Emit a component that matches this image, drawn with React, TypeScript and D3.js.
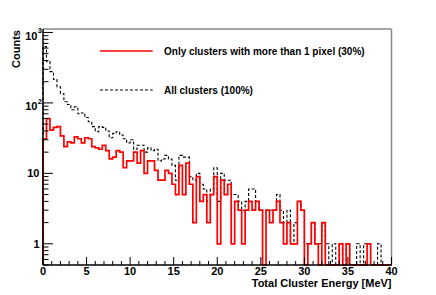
import * as d3 from "d3";

// histogram: 100 bins of 0.4 MeV from 0 to 40 MeV
const binStart = 0;
const binWidth = 0.4;

const allClusters = [
  630, 385, 278, 215, 170, 135, 104, 95, 80, 88,
  70, 72, 62, 54, 46, 39, 46, 45, 40, 32,
  37, 39, 35, 31, 27, 30, 22, 25, 25, 20,
  23, 21, 22, 15, 16, 18, 16, 13, 8, 18,
  17, 17, 9, 8, 10, 7, 6, 4, 6, 12,
  4, 10, 8, 8, 5, 5, 4, 3, 4, 6,
  6, 4, 3, 3, 3, 3, 3, 5, 3, 2,
  3, 1, 2, 4, 3, 1, 1, 2, 1, 1,
  2, 1, 0, 1, 0, 1, 0, 1, 0, 0,
  1, 0, 1, 1, 0, 0, 1, 0, 0, 0,
];

const multiPixelClusters = [
  31, 60, 41, 45, 46, 34, 24, 28, 27, 33,
  31, 27, 32, 31, 24, 23, 22, 25, 21, 16,
  17, 21, 20, 12, 15, 15, 20, 14, 21, 10,
  15, 15, 11, 8, 8, 11, 10, 7, 5, 13,
  5, 14, 7, 2, 9, 4, 5, 2, 5, 9,
  1, 8, 5, 7, 1, 4, 3, 1, 3, 4,
  3, 4, 3, 0, 3, 2, 3, 4, 2, 1,
  2, 1, 1, 4, 3, 0, 1, 2, 1, 0,
  2, 0, 0, 0, 0, 1, 0, 1, 0, 0,
  0, 0, 0, 1, 0, 0, 0, 0, 0, 0,
];

const xTickLabels = ["0", "5", "10", "15", "20", "25", "30", "35", "40"];
const yDecades = [1, 10, 100, 1000];
const yDecadeBases = ["1", "10", "10", "10"];
const yDecadeExponents = ["", "", "2", "3"];

const legendLabels = ["Only clusters with more than 1 pixel (30%)", "All clusters (100%)"];
const xTitle = "Total Cluster Energy [MeV]";
const yTitle = "Counts";

const W = 436;
const H = 295;
const frame = { left: 43, right: 391.5, top: 29, bottom: 265 };
const font = "'Liberation Sans', Arial, Helvetica, sans-serif";

function histPath(
  values: number[],
  x: d3.ScaleLinear<number, number>,
  y: d3.ScaleLogarithmic<number, number>
) {
  const yv = (v: number) => (v > 0 ? y(v) : frame.bottom);
  const pts: [number, number][] = [[x(binStart), frame.bottom]];
  values.forEach((v, i) => pts.push([x(binStart + i * binWidth), yv(v)]));
  const xEnd = x(binStart + values.length * binWidth);
  pts.push([xEnd, yv(values[values.length - 1])]);
  pts.push([xEnd, frame.bottom]);
  return d3.line().curve(d3.curveStepAfter)(pts) || "";
}

export default function App() {
  const x = d3.scaleLinear().domain([0, 40]).range([frame.left, frame.right]);
  const y = d3.scaleLog().domain([0.5, 1120]).range([frame.bottom, frame.top]);

  const xMinor = x.ticks(40);
  const xMajor = x.ticks(8);
  const yAll = y.ticks();
  const isDecade = (v: number) => Math.abs(Math.log10(v) - Math.round(Math.log10(v))) < 1e-9;

  return (
    <svg
      width={W}
      height={H}
      style={{ position: "absolute", left: 0, top: 0, background: "#fff" }}
      fontFamily={font}
      fontWeight="bold"
    >
      <rect x={0} y={0} width={W} height={H} fill="#fff" />

      {/* histograms */}
      <path
        d={histPath(allClusters, x, y)}
        fill="none"
        stroke="#000"
        strokeWidth={1.1}
        strokeDasharray="3,2"
      />
      <path
        d={histPath(multiPixelClusters, x, y)}
        fill="none"
        stroke="#ff0000"
        strokeWidth={1.7}
      />

      {/* frame */}
      <line x1={frame.left} x2={frame.right} y1={frame.top} y2={frame.top} stroke="#888" strokeWidth={1.5} />
      <line x1={frame.right} x2={frame.right} y1={frame.top} y2={frame.bottom} stroke="#888" strokeWidth={1.5} />
      <line x1={frame.left} x2={frame.right} y1={frame.bottom} y2={frame.bottom} stroke="#000" strokeWidth={1.5} />
      <line x1={frame.left} x2={frame.left} y1={frame.top} y2={frame.bottom} stroke="#000" strokeWidth={1.5} />

      {/* x ticks */}
      {xMinor.map((t) => {
        const major = xMajor.includes(t);
        return (
          <line
            key={`xt${t}`}
            x1={x(t)}
            x2={x(t)}
            y1={frame.bottom}
            y2={frame.bottom - (major ? 8 : 4)}
            stroke="#000"
            strokeWidth={1}
          />
        );
      })}
      {xMajor.map((t, i) => (
        <text key={`xl${t}`} x={x(t)} y={275} fontSize={11} textAnchor="middle">
          {xTickLabels[i]}
        </text>
      ))}

      {/* y ticks */}
      {yAll.map((t) => (
        <line
          key={`yt${t}`}
          x1={frame.left}
          x2={frame.left + (isDecade(t) ? 10 : 5.5)}
          y1={y(t)}
          y2={y(t)}
          stroke="#000"
          strokeWidth={1}
        />
      ))}
      {yDecades.map((v, i) =>
        yDecadeExponents[i] === "" ? (
          <text key={`yl${v}`} x={39.5} y={y(v) + 3.8} fontSize={11} textAnchor="end">
            {yDecadeBases[i]}
          </text>
        ) : (
          <g key={`yl${v}`}>
            <text x={37.5} y={y(v) + 7.5} fontSize={11} textAnchor="end">
              {yDecadeBases[i]}
            </text>
            <text x={37.8} y={y(v) + 1} fontSize={7.5} textAnchor="start">
              {yDecadeExponents[i]}
            </text>
          </g>
        )
      )}

      {/* axis titles */}
      <text x={frame.right} y={287} fontSize={11} textAnchor="end">
        {xTitle}
      </text>
      <text
        transform={`translate(20, ${frame.top + 1}) rotate(-90)`}
        fontSize={11}
        textAnchor="end"
      >
        {yTitle}
      </text>

      {/* legend */}
      <line x1={100} x2={152.7} y1={51} y2={51} stroke="#ff0000" strokeWidth={1.7} />
      <text x={164} y={54.5} fontSize={10}>
        {legendLabels[0]}
      </text>
      <line x1={100} x2={152.7} y1={90} y2={90} stroke="#000" strokeWidth={1.1} strokeDasharray="3,2" />
      <text x={164} y={93.5} fontSize={10}>
        {legendLabels[1]}
      </text>
    </svg>
  );
}
